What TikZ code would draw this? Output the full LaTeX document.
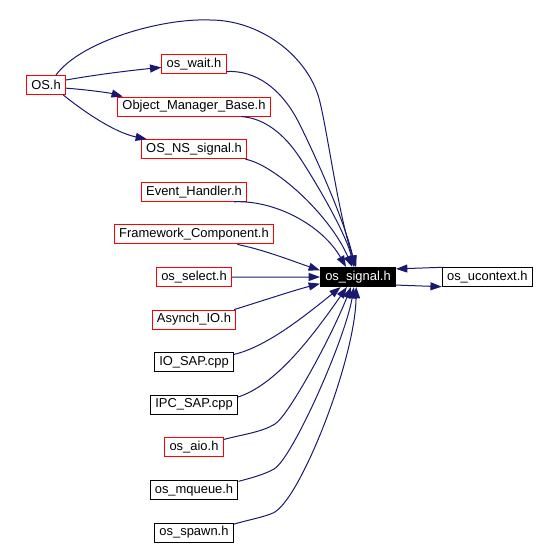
\documentclass[tikz,border=0pt]{standalone}
\usepackage{fontspec}
\setmainfont{Liberation Sans}
\usetikzlibrary{positioning, arrows.meta}
\definecolor{depblue}{HTML}{191970}
\tikzset{
  hfile/.style={draw=black, line width=0.75pt, fill=white, font=\fontsize{9.7}{11}\selectfont,
    minimum height=14.25pt, inner xsep=3.6pt, inner ysep=0pt},
  trunc/.style={hfile, draw=red},
  cur/.style={hfile, fill=black, text=white},
  dep/.style={draw=depblue, line width=0.75pt, -{Triangle[length=8.5pt,width=6pt]}},
}

\begin{document}
\begin{tikzpicture}[x=0.75pt, y=-0.75pt, node distance=31.95pt, on grid]
  \useasboundingbox (0,0) rectangle (556,545);

  \node[trunc] (osh) at (46,85) {OS.h};
  \node[trunc] (wait) at (194,64) {os\_wait.h};
  \node[trunc] (omb) [below=of wait] {Object\_Manager\_Base.h};
  \node[trunc] (nssig) [below=of omb] {OS\_NS\_signal.h};
  \node[trunc] (evh) [below=of nssig] {Event\_Handler.h};
  \node[trunc] (fwc) [below=of evh] {Framework\_Component.h};
  \node[trunc] (sel) [below=of fwc] {os\_select.h};
  \node[trunc] (asy) [below=of sel] {Asynch\_IO.h};
  \node[hfile] (iosap) [below=of asy] {IO\_SAP.cpp};
  \node[hfile] (ipcsap) [below=of iosap] {IPC\_SAP.cpp};
  \node[trunc] (aio) [below=of ipcsap] {os\_aio.h};
  \node[hfile] (mq) [below=of aio] {os\_mqueue.h};
  \node[hfile] (spawn) [below=of mq] {os\_spawn.h};
  \node[cur] (sig) at (358,277) {os\_signal.h};
  \node[hfile] (uctx) [right=97pt of sig] {os\_ucontext.h};

  % OS.h includes
  \draw[dep] (osh.14) .. controls (100,74) and (135,70) .. (wait.-174);
  \draw[dep] (osh.-9) .. controls (90,90) and (110,93) .. (omb.172);
  \draw[dep] (osh.-30) .. controls (78,107) and (112,132) .. (nssig.168);
  \draw[dep] (osh.45) .. controls (80,42) and (160,18) .. (210,20)
    .. controls (260,20) and (305,55) .. (318,95)
    .. controls (326,120) and (338,215) .. (sig.100);

  % everything that pulls in os_signal.h
  \draw[dep] (wait.-13) .. controls (255,70) and (282,88) .. (300,125)
    .. controls (309,143) and (343,215) .. (sig.105);
  \draw[dep] (omb.-12) .. controls (265,118) and (285,135) .. (300,158)
    .. controls (310,173) and (345,230) .. (sig.112);
  \draw[dep] (nssig.-11) .. controls (275,165) and (330,215) .. (sig.120);
  \draw[dep] (evh.-14) .. controls (275,200) and (322,225) .. (sig.140);
  \draw[dep] (fwc.-13) .. controls (265,250) and (295,262) .. (sig.170);
  \draw[dep] (sel) -- (sig);
  \draw[dep] (asy.14) .. controls (265,300) and (295,290) .. (sig.-170);
  \draw[dep] (iosap.11) .. controls (265,347) and (300,320) .. (sig.-150);
  \draw[dep] (ipcsap.10) .. controls (275,385) and (310,340) .. (sig.-138);
  \draw[dep] (aio.15) .. controls (245,434) and (262,432) .. (275,424)
    .. controls (288,416) and (330,340) .. (sig.-125);
  \draw[dep] (mq.11) .. controls (255,477) and (265,474) .. (274,469)
    .. controls (292,459) and (345,340) .. (sig.-112);
  \draw[dep] (spawn.12) .. controls (252,519) and (264,517) .. (273,513)
    .. controls (300,501) and (355,360) .. (sig.-100);

  % os_signal.h <-> os_ucontext.h
  \draw[dep] (uctx.168) -- (sig.12);
  \draw[dep] (sig.-12) -- (uctx.-168);
\end{tikzpicture}
\end{document}
